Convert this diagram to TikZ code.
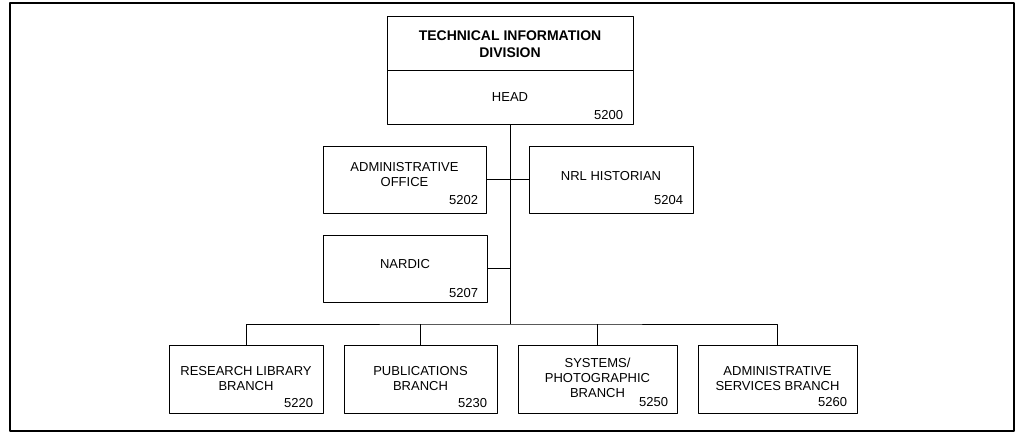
\documentclass[tikz,border=0pt]{standalone}
\usepackage{fontspec}
\setmainfont{Liberation Sans}
\begin{document}
\begin{tikzpicture}[x=1pt,y=-1pt,line width=1pt,line join=round,
  unit/.style={draw,inner sep=0pt,align=center,font=\fontsize{13}{15}\selectfont},
  code/.style={anchor=base east,inner sep=0pt,font=\fontsize{13}{15}\selectfont}]
\def \bus{324}
\useasboundingbox (0,0) rectangle (1016,433);
\draw[line width=2pt] (10,3) rectangle (1014,431);
\node[unit,minimum width=246,minimum height=54,font=\fontsize{14}{16.5}\selectfont\bfseries] (tid) at (510,44) {TECHNICAL INFORMATION\\DIVISION};
\node[unit,minimum width=246,minimum height=53] (head) at (510,97.5) {HEAD};
\node[code] (head-no) at ([shift={(-10,-5)}]head.south east) {5200};
\node[unit,minimum width=163,minimum height=67,text depth=11pt] (adm) at (404.5,179.5) {ADMINISTRATIVE\\OFFICE};
\node[code] (adm-no) at ([shift={(-8,-9)}]adm.south east) {5202};
\node[unit,minimum width=164,minimum height=67,text depth=8pt] (nrl) at (611,179.5) {NRL HISTORIAN};
\node[code] (nrl-no) at ([shift={(-10,-9)}]nrl.south east) {5204};
\node[unit,minimum width=164,minimum height=67,text depth=10pt] (nar) at (405,268.5) {NARDIC};
\node[code] (nar-no) at ([shift={(-9,-5)}]nar.south east) {5207};
\node[unit,minimum width=154,minimum height=68,text depth=2pt] (rlb) at (246,379) {RESEARCH LIBRARY\\BRANCH};
\node[code] (rlb-no) at ([shift={(-10,-6)}]rlb.south east) {5220};
\node[unit,minimum width=153,minimum height=68,text depth=2pt] (pub) at (420.5,379) {PUBLICATIONS\\BRANCH};
\node[code] (pub-no) at ([shift={(-10,-6)}]pub.south east) {5230};
\node[unit,minimum width=159,minimum height=68,text depth=3pt] (sys) at (597.5,379) {SYSTEMS/\\PHOTOGRAPHIC\\BRANCH};
\node[code] (sys-no) at ([shift={(-9,-7)}]sys.south east) {5250};
\node[unit,minimum width=159,minimum height=68,text depth=2pt] (asb) at (777.5,379) {ADMINISTRATIVE\\SERVICES BRANCH};
\node[code] (asb-no) at ([shift={(-10,-7)}]asb.south east) {5260};
\coordinate (bus) at (head.south |- 0,\bus);
\draw (head.south) -- (bus);
\draw (adm.east) -- (nrl.west);
\draw (nar.east) -- (nar.east -| bus);
\draw (rlb.north) |- (bus) -| (asb.north);
\draw (pub.north) -- (pub.north |- bus);
\draw (sys.north) -- (sys.north |- bus);
\end{tikzpicture}
\end{document}
